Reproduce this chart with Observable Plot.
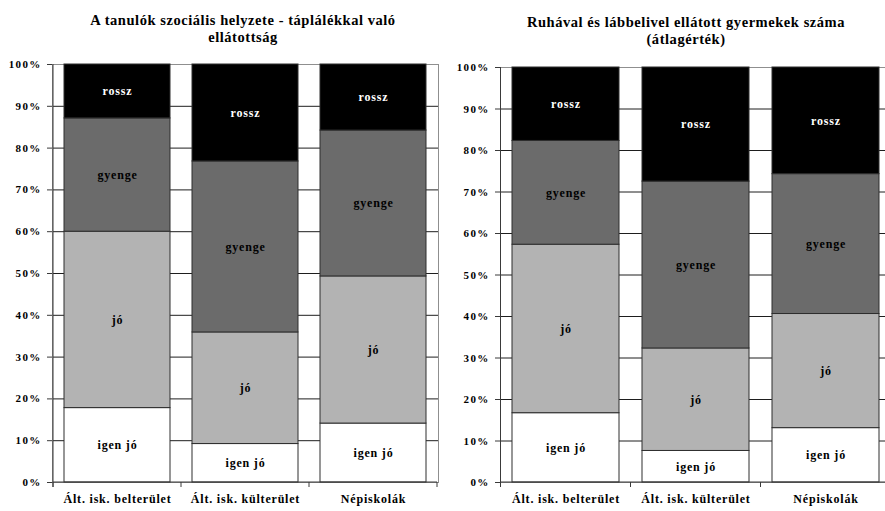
<!DOCTYPE html>
<html>
<head>
<meta charset="utf-8">
<script src="https://cdn.jsdelivr.net/npm/d3@7"></script>
<script src="https://cdn.jsdelivr.net/npm/@observablehq/plot@0.6"></script>
<style>
  body { margin: 0; background: #fff; }
  #wrap { position: relative; width: 885px; height: 511px; overflow: hidden; background: #fff;
          font-family: "Liberation Serif", "Times New Roman", serif; }
  .title { position: absolute; font-weight: bold; font-size: 14.5px; line-height: 17px; text-align: center;
           letter-spacing: 0.55px; white-space: nowrap; color: #000; }
  .panel { position: absolute; top: 0; height: 511px; overflow: hidden; }
  #wrap svg { max-width: none !important; }
  #wrap svg text { letter-spacing: 0.8px; }
  #wrap g[aria-label="y-axis tick label"] text { letter-spacing: 1.3px; }
</style>
</head>
<body>
<div id="wrap">
  <div class="panel" id="left" style="left:0;width:442px"></div>
  <div class="panel" id="right" style="left:443px;width:442px"></div>
  <div class="title" style="left:0;width:486px;top:12px">A tanulók szociális helyzete - táplálékkal való<br>ellátottság</div>
  <div class="title" style="left:486px;width:400px;top:14px">Ruhával és lábbelivel ellátott gyermekek száma<br>(átlagérték)</div>
</div>
<script>
const categories = ["Ált. isk. belterület", "Ált. isk. külterület", "Népiskolák"];
const seriesNames = ["igen jó", "jó", "gyenge", "rossz"];
const seriesColors = ["#ffffff", "#b3b3b3", "#6b6b6b", "#000000"];
const labelColors = ["#000000", "#000000", "#000000", "#ffffff"];
const yTicks = [0, 10, 20, 30, 40, 50, 60, 70, 80, 90, 100];

// Chart 1: táplálékkal való ellátottság (%)
const foodIgenJo = [17.8, 9.2, 14.1];
const foodJo     = [42.2, 26.7, 35.2];
const foodGyenge = [27.1, 40.9, 34.9];
const foodRossz  = [12.9, 23.2, 15.8];

// Chart 2: ruhával és lábbelivel ellátott (%)
const clothIgenJo = [16.7, 7.6, 13.1];
const clothJo     = [40.6, 24.7, 27.5];
const clothGyenge = [25.0, 40.2, 33.7];
const clothRossz  = [17.7, 27.5, 25.7];

function toRows(seriesArrays) {
  const rows = [];
  categories.forEach((cat, ci) => {
    seriesNames.forEach((s, si) => {
      rows.push({cat, series: s, value: seriesArrays[si][ci],
                 color: seriesColors[si], labelColor: labelColors[si]});
    });
  });
  return rows;
}

function bandFrame(index, scales, values, dimensions) {
  const x = scales.x, y = scales.y;
  const g = d3.create("svg:g").attr("stroke", "#3a3a3a").attr("fill", "none");
  let bw, step;
  if (typeof x.bandwidth === "function") { bw = x.bandwidth(); step = x.step(); }
  else {
    step = (dimensions.width - dimensions.marginLeft - dimensions.marginRight) / categories.length;
    bw = step * 0.83;
  }
  const gap = step - bw;
  const bounds = categories.map(c => x(c) - gap / 2);
  bounds.push(x(categories[categories.length - 1]) + bw + gap / 2);
  const y0 = y(0), y1 = y(100);
  g.append("line").attr("x1", bounds[0]).attr("x2", bounds[0]).attr("y1", y1).attr("y2", y0 + 5);
  g.append("line").attr("x1", bounds[0]).attr("x2", bounds[bounds.length - 1]).attr("y1", y0).attr("y2", y0);
  bounds.forEach(b => {
    g.append("line").attr("x1", b).attr("x2", b).attr("y1", y0).attr("y2", y0 + 5);
  });
  return g.node();
}

function chart(rows, {width, marginLeft, marginRight, marginTop, marginBottom, padIn, tickPadding}) {
  return Plot.plot({
    width, height: 511, marginLeft, marginRight, marginTop, marginBottom,
    style: {fontFamily: "'Liberation Serif', 'Times New Roman', serif", background: "transparent", maxWidth: "none", color: "#000"},
    x: {domain: categories, paddingInner: padIn, paddingOuter: padIn / 2, label: null},
    y: {domain: [0, 100], label: null},
    color: {type: "identity"},
    marks: [
      Plot.ruleY(yTicks.filter(t => t > 0 && t < 100), {stroke: "#1e1e1e", strokeWidth: 1}),
      Plot.frame({stroke: "#8f8f8f"}),
      Plot.barY(rows, {x: "cat", y: "value", z: "series", order: seriesNames, fill: "color",
                       stroke: "#2e2e2e", strokeWidth: 1}),
      Plot.text(rows, Plot.stackY({x: "cat", y: "value", z: "series", order: seriesNames,
                       text: "series", fill: "labelColor", fontSize: 12, fontWeight: "bold"})),
      bandFrame,
      Plot.axisY({ticks: yTicks, tickFormat: d => d + "%", tickSize: 5, tickPadding,
                  fontSize: 11, fontWeight: "bold", stroke: "#3a3a3a"}),
      Plot.axisX({tickSize: 0, tickPadding: 12, fontSize: 12, fontWeight: "bold"})
    ]
  });
}

document.getElementById("left").append(
  chart(toRows([foodIgenJo, foodJo, foodGyenge, foodRossz]),
        {width: 442, marginLeft: 52, marginRight: 4, marginTop: 64, marginBottom: 29, padIn: 0.17, tickPadding: 6})
);
document.getElementById("right").append(
  chart(toRows([clothIgenJo, clothJo, clothGyenge, clothRossz]),
        {width: 453, marginLeft: 57, marginRight: 4, marginTop: 67, marginBottom: 29, padIn: 0.175, tickPadding: 6})
);
</script>
</body>
</html>
